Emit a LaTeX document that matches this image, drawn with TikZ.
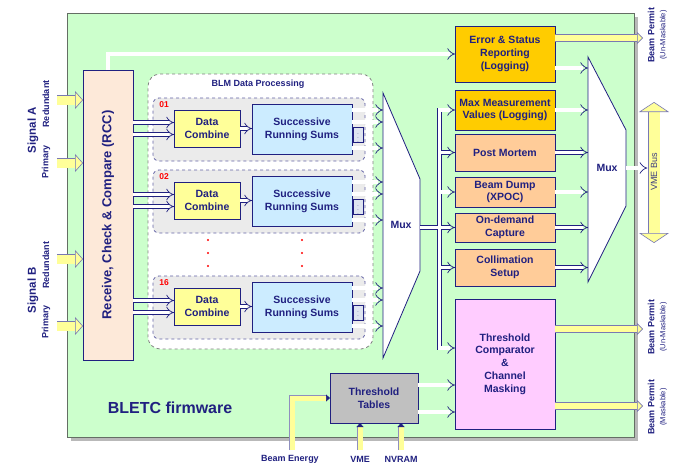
\documentclass[tikz,border=0pt]{standalone}
\usepackage{fontspec}
\setmainfont{Liberation Sans}
\usetikzlibrary{arrows.meta}

\definecolor{navy}{RGB}{32,32,128}
\definecolor{bggreen}{RGB}{204,255,204}
\definecolor{framegray}{RGB}{100,110,100}
\definecolor{rccpeach}{RGB}{253,233,217}
\definecolor{amber}{RGB}{255,204,0}
\definecolor{apricot}{RGB}{255,204,153}
\definecolor{pinkish}{RGB}{255,204,255}
\definecolor{tgray}{RGB}{192,192,192}
\definecolor{lemon}{RGB}{255,255,153}
\definecolor{srsblue}{RGB}{204,236,255}
\definecolor{chgray}{RGB}{235,235,235}
\definecolor{tabblue}{RGB}{222,228,240}

\newcommand{\bxfont}{\fontsize{10.5}{12.7}\selectfont\bfseries}

\begin{document}
\begin{tikzpicture}[x=1pt, y=-1pt,
  box/.style={draw=navy, line width=0.8pt, text=navy, inner sep=0pt, outer sep=0pt, align=center, font=\bxfont},
  chanbox/.style={draw=navy!70, dashed, line width=0.8pt, rounded corners=6pt, fill=chgray, minimum width=212, minimum height=63, inner sep=0pt},
  tabbox/.style={draw=navy, line width=0.6pt, fill=tabblue, minimum width=10, minimum height=15, inner sep=0pt, text=navy, font=\fontsize{5}{6}\selectfont},
  muxshape/.style={draw=navy, line width=0.8pt, fill=white},
  pipe/.style={draw=navy, line width=0.7pt, double=white, double distance=3.4pt, -Implies},
  yarrow/.style={draw=navy!60, line width=0.6pt, double=lemon, double distance=9pt, -{Triangle[length=8pt, width=18pt, fill=lemon, line width=0.6pt]}},
  ypermit/.style={draw=navy!60, line width=0.6pt, double=lemon, double distance=6pt, -{Triangle[length=6pt, width=12pt, fill=lemon, line width=0.6pt]}},
  ybus/.style={draw=navy!60, line width=0.6pt, double=lemon, double distance=11pt, {Triangle[length=10pt, width=30pt, fill=lemon, line width=0.6pt]}-{Triangle[length=10pt, width=30pt, fill=lemon, line width=0.6pt]}},
  feed/.style={draw=navy!50, line width=0.5pt, double=lemon, double distance=5pt, -{Triangle[length=4pt, width=7pt, navy]}},
  lbl/.style={text=navy, font=\fontsize{9}{11}\selectfont\bfseries, inner sep=0pt},
  siglbl/.style={rotate=90, text=navy, font=\fontsize{11.5}{13}\selectfont\bfseries, inner sep=0pt},
  sublbl/.style={rotate=90, text=navy, font=\fontsize{9}{11}\selectfont\bfseries, inner sep=0pt},
  permitlbl/.style={rotate=90, align=center, text=navy, font=\fontsize{9}{11}\selectfont\bfseries, inner sep=0pt}]
\useasboundingbox (0,0) rectangle (684,463);

% firmware frame
\fill[gray!55] (71,17) rectangle (638,441);
\draw[framegray, line width=0.8pt, fill=bggreen] (67,13) rectangle (634,437);
\node[text=navy, font=\fontsize{16}{19}\selectfont\bfseries] (fw) at (170,408) {BLETC firmware};

% receive, check & compare
\node[box, fill=rccpeach, minimum width=50, minimum height=290] (rcc) at (108,215) {};
\node[rotate=90, text=navy, font=\fontsize{13}{15}\selectfont\bfseries] (rcctext) at (108,215) {Receive, Check \& Compare (RCC)};

% BLM data processing
\node[draw=gray, dashed, line width=0.8pt, rounded corners=12pt, fill=white, minimum width=225, minimum height=275] (blm) at (260.5,211.5) {};
\node[lbl] (blmlabel) at (258,84) {BLM Data Processing};
\coordinate (muxa) at (383,93);

\foreach \ch/\dy in {01/0, 02/72, 16/178} {
  \node[chanbox] (ch\ch) at (259,129.5+\dy) {};
  \node[text=red, font=\fontsize{8.5}{10}\selectfont\bfseries, inner sep=0pt] (n\ch) at (164,105+\dy) {\ch};
  \node[box, fill=lemon, minimum width=66, minimum height=37] (dc\ch) at (207,128.5+\dy) {Data\\Combine};
  \node[box, fill=srsblue, minimum width=100, minimum height=50] (srs\ch) at (302,129+\dy) {Successive\\Running Sums};
  \node[tabbox] (tab\ch) at (358,135+\dy) {$\vdots$};
  \foreach \k in {6,-6} {
    \coordinate (d) at ([yshift=\k pt]dc\ch.west);
    \draw[pipe] (d -| rcc.east) -- (d);
  }
  \draw[pipe] (dc\ch.east) -- (dc\ch.east -| srs\ch.west);
  \foreach \k in {19,7,-19} {
    \coordinate (s) at ([yshift=\k pt]srs\ch.east);
    \draw[pipe] (s) -- (s -| muxa);
  }
}
\foreach \x in {208,302}
  \foreach \y in {240,253,266}
    \fill[red] (\x,\y) circle (1.2);

% first mux
\draw[muxshape] (383,93) -- (420,179) -- (420,271) -- (383,358) -- cycle;
\node[text=navy, font=\bxfont] (mux1) at (401,225) {Mux};

% right column
\node[box, fill=amber, minimum width=100, minimum height=56] (err) at (505,54) {Error \& Status\\Reporting\\(Logging)};
\node[box, fill=amber, minimum width=100, minimum height=40] (maxv) at (505,110) {Max Measurement\\Values (Logging)};
\node[box, fill=apricot, minimum width=100, minimum height=37] (pm) at (505,152.5) {Post Mortem};
\node[box, fill=apricot, minimum width=100, minimum height=30] (bd) at (505,192) {Beam Dump\\(XPOC)};
\node[box, fill=apricot, minimum width=100, minimum height=29] (od) at (505,227.5) {On-demand\\Capture};
\node[box, fill=apricot, minimum width=100, minimum height=37] (coll) at (505,267.5) {Collimation\\Setup};
\node[box, fill=pinkish, minimum width=100, minimum height=130] (thr) at (505,364) {Threshold\\Comparator\\\&\\Channel\\Masking};
\node[box, fill=tgray, minimum width=88, minimum height=50] (ttab) at (374,398) {Threshold\\Tables};

% rcc to error reporting
\draw[pipe] (rcc.north) |- (err.west);

% mux output bus
\coordinate (mux1out) at (420,227.5);
\coordinate (trunk) at (439.5,227.5);
\coordinate (thrin) at ([yshift=16pt]thr.west);
\draw[pipe] (trunk) |- (maxv.west);
\draw[pipe] (trunk) |- (thrin);
\draw[pipe] (mux1out) -- (od.west);
\foreach \n in {pm,bd,coll}
  \draw[pipe] (trunk |- \n.west) -- (\n.west);
\draw[white, line width=3.4pt] (trunk |- maxv.west) -- (trunk |- thrin);

% threshold tables
\coordinate (t1) at ([yshift=13pt]ttab.east);
\coordinate (t2) at ([yshift=-14pt]ttab.east);
\draw[pipe] (t1) -- (t1 -| thr.west);
\draw[pipe] (t2) -- (t2 -| thr.west);

% second mux
\draw[muxshape] (588,57) -- (626,130) -- (626,206) -- (588,282) -- cycle;
\node[text=navy, font=\bxfont] (mux2) at (607,168) {Mux};
\coordinate (muxb) at (588,57);
\coordinate (eo) at ([yshift=-14pt]err.east);
\draw[pipe] (eo) -- (eo -| muxb);
\foreach \n in {maxv,pm,bd,od,coll}
  \draw[pipe] (\n.east) -- (\n.east -| muxb);

% VME bus
\coordinate (vbtop) at (654,102);
\coordinate (vbbot) at (654,243);
\draw[ybus] (vbtop) -- (vbbot);
\node[rotate=90, text=navy!70!gray, font=\fontsize{9}{11}\selectfont] (vbus) at (654,172) {VME Bus};
\coordinate (mux2out) at (626,168);
\draw[pipe] (mux2out) -- (mux2out -| vbus.north);

% beam permit outputs
\coordinate (bpx) at (643,38);
\coordinate (bp1) at ([yshift=16pt]err.east);
\coordinate (bp2) at ([yshift=35pt]thr.east);
\coordinate (bp3) at ([yshift=-42pt]thr.east);
\draw[ypermit] (bp1) -- (bp1 -| bpx);
\draw[ypermit] (bp2) -- (bp2 -| bpx);
\draw[ypermit] (bp3) -- (bp3 -| bpx);
\node[permitlbl] (bpl1) at (657.5,35) {Beam Permit\\{\fontsize{7.5}{9}\selectfont\mdseries (Un-Maskable)}};
\node[permitlbl] (bpl2) at (657.5,327) {Beam Permit\\{\fontsize{7.5}{9}\selectfont\mdseries (Un-Maskable)}};
\node[permitlbl] (bpl3) at (657.5,407) {Beam Permit\\{\fontsize{7.5}{9}\selectfont\mdseries (Maskable)}};

% signal inputs
\node[siglbl] (siga) at (33,130) {Signal A};
\node[sublbl] (reda) at (46,104) {Redundant};
\node[sublbl] (pria) at (46,162) {Primary};
\node[siglbl] (sigb) at (33,290) {Signal B};
\node[sublbl] (redb) at (46,265) {Redundant};
\node[sublbl] (prib) at (46,322) {Primary};
\coordinate (sa1) at (57,100);
\coordinate (sa2) at (57,163);
\coordinate (sb1) at (57,259);
\coordinate (sb2) at (57,326);
\foreach \s in {sa1,sa2,sb1,sb2}
  \draw[yarrow] (\s) -- (\s -| rcc.west);

% table inputs
\node[lbl] (beamen) at (290,459) {Beam Energy};
\node[lbl] (vmel) at (360,459) {VME};
\node[lbl] (nvram) at (401,459) {NVRAM};
\coordinate (be) at (292,450);
\coordinate (vi) at (360,450);
\coordinate (ni) at (401,450);
\draw[feed] (be) |- (ttab.west);
\draw[feed] (vi) -- (vi |- ttab.south);
\draw[feed] (ni) -- (ni |- ttab.south);
\end{tikzpicture}
\end{document}
